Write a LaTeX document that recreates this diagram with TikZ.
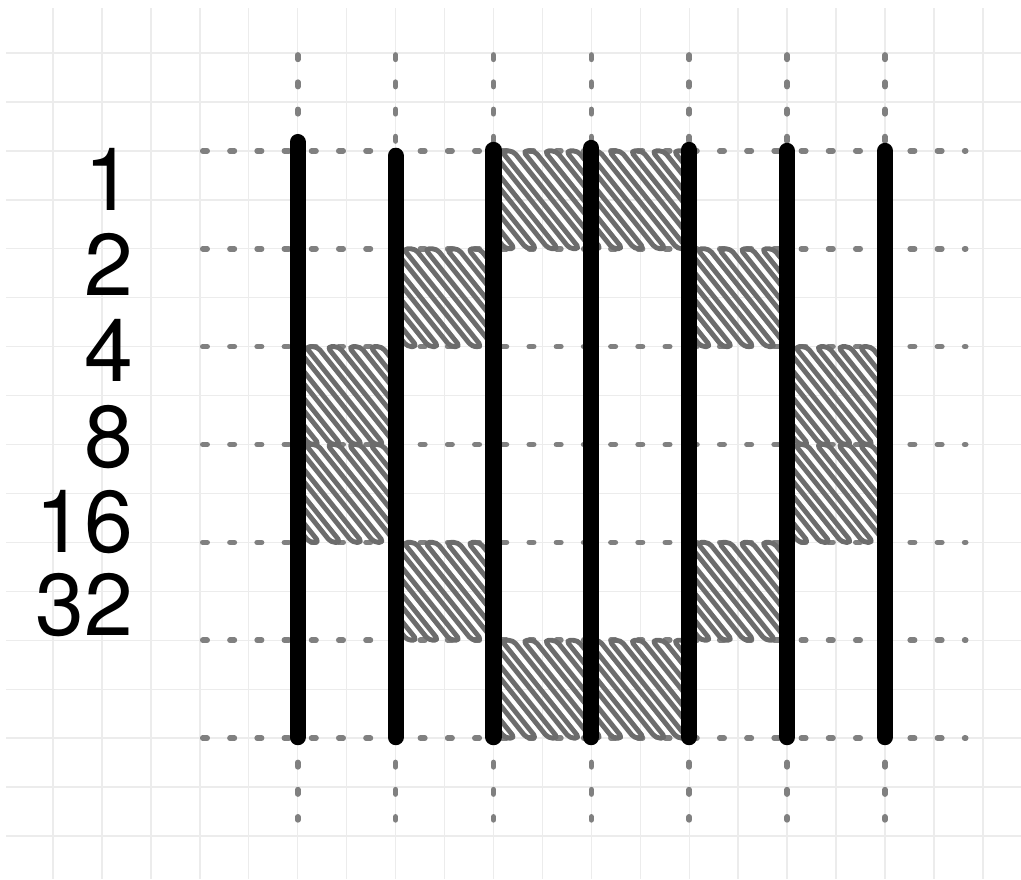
\documentclass[tikz,border=0pt]{standalone}
\usepackage{fontspec}
\setmainfont{TeX Gyre Heros}
\usepackage{tikz}
\usepackage{xcolor}
\definecolor{Cgrid}{RGB}{236,236,236}
\definecolor{Cdash}{RGB}{128,128,128}
\definecolor{Chatch}{RGB}{108,108,108}

\begin{document}
\begin{tikzpicture}[
  x=1cm, y=-1cm,
  gridline/.style = {draw=Cgrid, line width=0.8pt},
  dashline/.style = {draw=Cdash, line width=0.115cm, line cap=round,
                     dash pattern=on 0.09cm off 0.466cm},
  hatchline/.style = {draw=Chatch, line width=0.1cm, line cap=round,
                      line join=round, rounded corners=2.5pt},
  wire/.style = {draw=black, line width=0.33cm, line cap=round},
  rowlabel/.style = {anchor=base east, inner sep=0pt,
                     font=\fontsize{51}{51}\selectfont}
]
\useasboundingbox (-0.083,-0.083) rectangle (20.78,17.88);

%% ---------- Background grid ----------
\foreach \gx in {1,...,20}
  \draw[gridline] (\gx,0.08) -- (\gx,17.88);
\foreach \gy in {1,...,17}
  \draw[gridline] (0.04,\gy) -- (20.78,\gy);

%% ---------- Dashed guides ----------
\foreach \hy in {3,5,...,15}
  \draw[dashline] (4.06,\hy) -- (19.65,\hy);
\foreach \vx in {6,8,...,18}
  \draw[dashline] (\vx,1.04) -- (\vx,16.67);

%% ---------- Hatched cells ----------
\foreach \xa/\xb/\ya in {10/14/3, 8/10/5, 14/16/5, 6/8/7, 16/18/7,
                         6/8/9, 16/18/9, 8/10/11, 14/16/11, 10/14/13} {
  \begin{scope}
    \clip (\xa,\ya-0.1) rectangle (\xb,\ya+2.1);
    \draw[hatchline] (\xa-1.8,\ya)
      foreach \k in {1,...,14} { -- ++(1.6,2) -- ++(0.2,0)
                                 -- ++(-1.6,-2) -- ++(0.24,0) };
  \end{scope}
}

%% ---------- Vertical wires ----------
\foreach \wx/\wtop in {6/2.82, 8/3.1, 10/2.98, 12/2.94, 14/2.98, 16/3.0, 18/3.0}
  \draw[wire] (\wx,\wtop) -- (\wx,14.98);

%% ---------- Row labels ----------
\node[rowlabel] (lab1)  at (2.64,4.22)  {1};
\node[rowlabel] (lab2)  at (2.64,5.96)  {2};
\node[rowlabel] (lab4)  at (2.64,7.72)  {4};
\node[rowlabel] (lab8)  at (2.64,9.47)  {8};
\node[rowlabel] (lab16) at (2.64,11.21) {16};
\node[rowlabel] (lab32) at (2.64,12.9)  {32};

\end{tikzpicture}
\end{document}
